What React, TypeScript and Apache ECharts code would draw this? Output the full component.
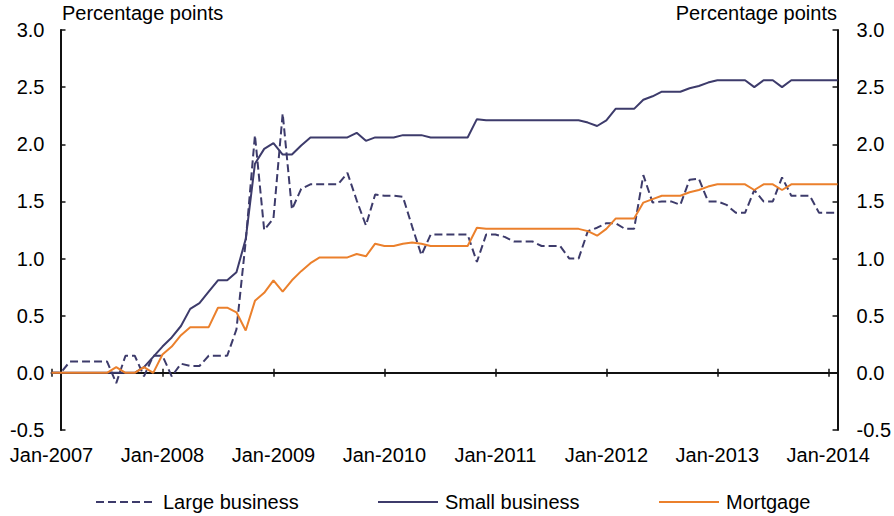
import React, { useEffect, useRef } from "react";
import * as echarts from "echarts";

const startYear = 2007;
const monthCount = 86; // Jan-2007 .. Feb-2014
const monthNames = ["Jan", "Feb", "Mar", "Apr", "May", "Jun", "Jul", "Aug", "Sep", "Oct", "Nov", "Dec"];
const categories: string[] = Array.from({ length: monthCount }, (_, i) =>
  `${monthNames[i % 12]}-${startYear + Math.floor(i / 12)}`
);

const yTicks = [-0.5, 0, 0.5, 1, 1.5, 2, 2.5, 3];

const largeBusiness = [
  0, 0, 0.10, 0.10, 0.10, 0.10, 0.10, -0.09, 0.15, 0.15,
  -0.03, 0.15, 0.15, -0.03, 0.08, 0.06, 0.06, 0.15, 0.15, 0.15,
  0.38, 1.15, 2.08, 1.25, 1.35, 2.27, 1.43, 1.61, 1.65, 1.65,
  1.65, 1.65, 1.75, 1.51, 1.29, 1.56, 1.55, 1.55, 1.54, 1.28,
  1.03, 1.21, 1.21, 1.21, 1.21, 1.21, 0.97, 1.21, 1.21, 1.19,
  1.15, 1.15, 1.15, 1.11, 1.11, 1.11, 1.00, 1.00, 1.24, 1.27,
  1.31, 1.31, 1.26, 1.26, 1.73, 1.49, 1.50, 1.50, 1.47, 1.69,
  1.70, 1.50, 1.50, 1.47, 1.40, 1.40, 1.60, 1.50, 1.50, 1.71,
  1.55, 1.55, 1.55, 1.40, 1.40, 1.40,
];

const smallBusiness = [
  0, 0, 0, 0, 0, 0, 0, 0, 0, 0,
  0.05, 0.14, 0.23, 0.31, 0.41, 0.56, 0.61, 0.71, 0.81, 0.81,
  0.88, 1.17, 1.83, 1.96, 2.01, 1.91, 1.91, 1.99, 2.06, 2.06,
  2.06, 2.06, 2.06, 2.10, 2.03, 2.06, 2.06, 2.06, 2.08, 2.08,
  2.08, 2.06, 2.06, 2.06, 2.06, 2.06, 2.22, 2.21, 2.21, 2.21,
  2.21, 2.21, 2.21, 2.21, 2.21, 2.21, 2.21, 2.21, 2.19, 2.16,
  2.21, 2.31, 2.31, 2.31, 2.39, 2.42, 2.46, 2.46, 2.46, 2.49,
  2.51, 2.54, 2.56, 2.56, 2.56, 2.56, 2.50, 2.56, 2.56, 2.50,
  2.56, 2.56, 2.56, 2.56, 2.56, 2.56,
];

const mortgage = [
  0, 0, 0, 0, 0, 0, 0, 0.05, 0, 0,
  0.05, 0, 0.16, 0.23, 0.33, 0.40, 0.40, 0.40, 0.57, 0.57,
  0.53, 0.37, 0.63, 0.70, 0.81, 0.71, 0.81, 0.89, 0.96, 1.01,
  1.01, 1.01, 1.01, 1.04, 1.02, 1.13, 1.11, 1.11, 1.13, 1.14,
  1.13, 1.11, 1.11, 1.11, 1.11, 1.11, 1.27, 1.26, 1.26, 1.26,
  1.26, 1.26, 1.26, 1.26, 1.26, 1.26, 1.26, 1.26, 1.24, 1.20,
  1.26, 1.35, 1.35, 1.35, 1.49, 1.52, 1.55, 1.55, 1.55, 1.58,
  1.60, 1.63, 1.65, 1.65, 1.65, 1.65, 1.60, 1.65, 1.65, 1.60,
  1.65, 1.65, 1.65, 1.65, 1.65, 1.65,
];

const NAVY = "#3d3b6b";
const ORANGE = "#eb802c";
const FONT = "'Liberation Sans', Arial, sans-serif";

export default function App() {
  const ref = useRef<HTMLDivElement>(null);
  useEffect(() => {
    if (!ref.current) return;
    const chart = echarts.init(ref.current, undefined, { renderer: "svg" });
    const gridLeft = 51.5;
    const gridRight = 894 - 838.5;
    const baseX = {
      type: "category" as const,
      data: categories,
      boundaryGap: false,
      position: "bottom" as const,
    };
    chart.setOption({
      animation: false,
      backgroundColor: "#fff",
      textStyle: { fontFamily: FONT },
      grid: { left: gridLeft, right: gridRight, top: 30, bottom: 516 - 430, containLabel: false },
      graphic: [
        { type: "text", x: 62, y: 3, style: { text: "Percentage points", font: `20px ${FONT}`, fill: "#000" } },
        { type: "text", x: 837, y: 3, style: { text: "Percentage points", font: `20px ${FONT}`, fill: "#000", textAlign: "right" } },
      ],
      legend: [
        { data: ["Large business"], left: 90, top: 487 },
        { data: ["Small business"], left: 372, top: 487 },
        { data: ["Mortgage"], left: 653, top: 487 },
      ].map((l) => ({
        ...l,
        itemWidth: 60,
        itemHeight: 14,
        itemGap: 13,
        itemStyle: { opacity: 0 },
        textStyle: { fontFamily: FONT, fontSize: 20, color: "#000", padding: [0, 0, 0, 2] },
      })),
      xAxis: [
        {
          ...baseX,
          axisLine: { show: false, onZero: false },
          axisTick: { show: false },
          axisLabel: { interval: 11, margin: 15, color: "#000", fontSize: 20, fontFamily: FONT },
          splitLine: { show: false },
        },
        {
          ...baseX,
          axisLine: { show: true, onZero: true, onZeroAxisIndex: 0, lineStyle: { color: "#111", width: 2 } },
          axisTick: { show: true, interval: 11, inside: false, length: 4, lineStyle: { color: "#111", width: 1.5 } },
          axisLabel: { show: false },
          splitLine: { show: false },
        },
        {
          ...baseX,
          axisLine: { show: false, onZero: true, onZeroAxisIndex: 0 },
          axisTick: { show: true, interval: 11, inside: true, length: 4, lineStyle: { color: "#111", width: 1.5 } },
          axisLabel: { show: false },
          splitLine: { show: false },
        },
      ],
      yAxis: [
        {
          type: "value",
          position: "left",
          offset: -9,
          min: yTicks[0],
          max: yTicks[yTicks.length - 1],
          interval: 0.5,
          axisLine: { show: true, lineStyle: { color: "#111", width: 2 } },
          axisTick: { show: true, inside: true, length: 5, lineStyle: { color: "#111", width: 1.5 } },
          axisLabel: { margin: 16, color: "#000", fontSize: 20, fontFamily: FONT, formatter: (v: number) => v.toFixed(1) },
          splitLine: { show: false },
        },
        {
          type: "value",
          position: "right",
          min: yTicks[0],
          max: yTicks[yTicks.length - 1],
          interval: 0.5,
          axisLine: { show: true, lineStyle: { color: "#111", width: 2 } },
          axisTick: { show: true, inside: true, length: 5, lineStyle: { color: "#111", width: 1.5 } },
          axisLabel: { margin: 19, color: "#000", fontSize: 20, fontFamily: FONT, formatter: (v: number) => v.toFixed(1) },
          splitLine: { show: false },
        },
      ],
      series: [
        {
          name: "Large business",
          type: "line",
          data: largeBusiness,
          symbol: "none",
          color: NAVY,
          lineStyle: { color: NAVY, width: 2, type: [8, 4] },
        },
        {
          name: "Small business",
          type: "line",
          data: smallBusiness,
          symbol: "none",
          color: NAVY,
          lineStyle: { color: NAVY, width: 2 },
        },
        {
          name: "Mortgage",
          type: "line",
          data: mortgage,
          symbol: "none",
          color: ORANGE,
          lineStyle: { color: ORANGE, width: 2 },
        },
      ],
    });
    return () => chart.dispose();
  }, []);
  return <div ref={ref} style={{ position: "fixed", left: 0, top: 0, width: 894, height: 516 }} />;
}
